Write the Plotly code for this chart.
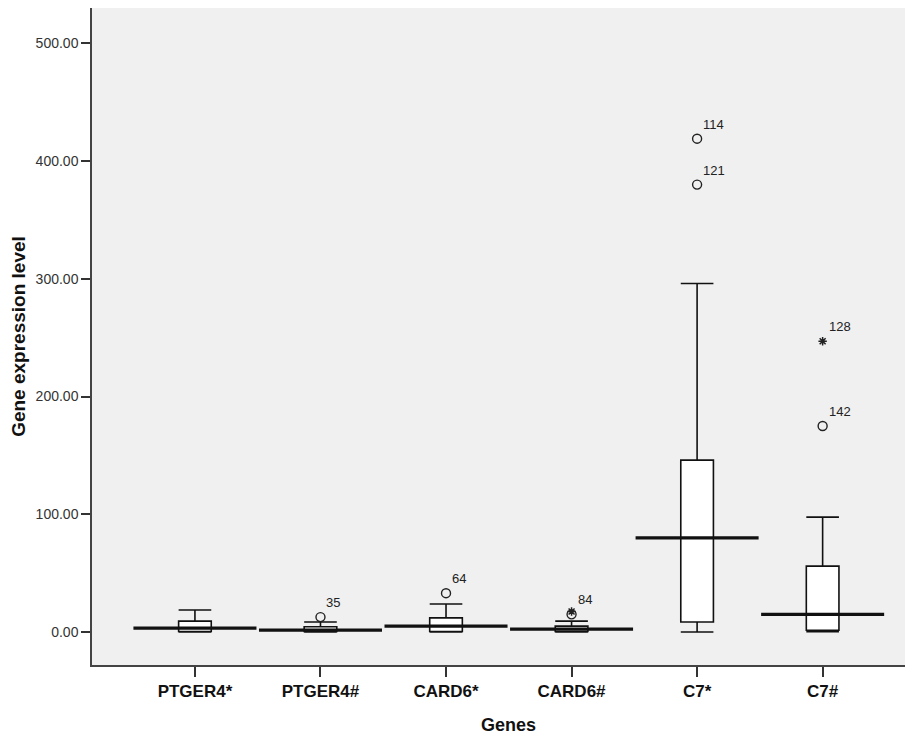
import plotly.graph_objects as go

genes = ["PTGER4*", "PTGER4#", "CARD6*", "CARD6#", "C7*", "C7#"]
q1 = [0.5, 0.5, 0.5, 0.5, 8.5, 1.5]
q3 = [9.3, 4.5, 12.0, 5.0, 146.0, 56.0]
box_mid = [3.4, 1.7, 5.0, 2.5, 80.0, 15.0]
lower_whisker = [0.0, 0.0, 0.0, 0.0, 0.0, 0.3]
upper_whisker = [18.7, 8.5, 23.8, 9.3, 296.0, 97.6]
center_line = [3.4, 1.7, 5.0, 2.5, 80.0, 15.0]

circle_group = [1, 2, 3, 4, 4, 5]
circle_value = [12.7, 33.0, 15.0, 419.0, 380.0, 175.0]
circle_label = ["35", "64", "84", "114", "121", "142"]

star_group = [3, 5]
star_value = [17.5, 247.0]
star_label = ["", "128"]

yticks = [0, 100, 200, 300, 400, 500]
ytick_text = ["0.00", "100.00", "200.00", "300.00", "400.00", "500.00"]

xs = list(range(len(genes)))
fig = go.Figure()

fig.add_trace(go.Box(
    x=xs, q1=q1, median=box_mid, q3=q3,
    lowerfence=lower_whisker, upperfence=upper_whisker,
    fillcolor="white", line=dict(color="#111111", width=1.6),
    width=0.26, whiskerwidth=1, boxpoints=False, showlegend=False,
    hoverinfo="skip",
))

# wide thick center lines
for i, v in enumerate(center_line):
    fig.add_shape(type="line", xref="x", yref="y",
                  x0=i - 0.49, x1=i + 0.49, y0=v, y1=v,
                  line=dict(color="#111111", width=3.2))

fig.add_trace(go.Scatter(
    x=circle_group, y=circle_value, mode="markers",
    marker=dict(symbol="circle-open", size=9, color="#222222",
                line=dict(width=1.4)),
    showlegend=False, hoverinfo="skip"))
fig.add_trace(go.Scatter(
    x=star_group, y=star_value, mode="markers",
    marker=dict(symbol="asterisk-open", size=7, color="#222222",
                line=dict(width=1.5)),
    showlegend=False, hoverinfo="skip"))

for gx, gv, gl in zip(circle_group + star_group, circle_value + star_value,
                      circle_label + star_label):
    if gl:
        fig.add_annotation(x=gx, y=gv, text=gl, showarrow=False,
                           xanchor="left", yanchor="bottom",
                           xshift=4, yshift=5,
                           font=dict(family="Liberation Sans, Arial", size=13,
                                     color="#222222"))

fig.add_annotation(x=0.511, y=-0.0913, xref="paper", yref="paper",
                   text="<b>Genes</b>", showarrow=False,
                   xanchor="center", yanchor="middle",
                   font=dict(family="Liberation Sans, Arial", size=18,
                             color="#111111"))

fig.update_layout(
    width=905, height=726,
    margin=dict(l=84, r=5, t=0, b=69),
    paper_bgcolor="white", plot_bgcolor="#f0f0f0",
    font=dict(family="Liberation Sans, Arial", color="#222222"),
)
fig.update_xaxes(
    range=[-0.82, 5.68], tickvals=xs,
    ticktext=["<b>%s</b>" % g for g in genes],
    tickfont=dict(size=17, color="#111111"),
    showgrid=False, zeroline=False, automargin=False,
    showline=True, linecolor="#444444", linewidth=1.5, mirror=True,
    ticks="outside", ticklen=10, tickwidth=1.5, tickcolor="#333333",
)
fig.update_yaxes(
    range=[-28, 530], tickvals=yticks, ticktext=ytick_text,
    tickfont=dict(size=14, color="#333333"),
    showgrid=False, zeroline=False, automargin=False,
    showline=True, linecolor="#444444", linewidth=1.5, mirror=True,
    ticks="outside", ticklen=9, tickwidth=1.5, tickcolor="#333333",
    title=dict(text="<b>Gene expression level</b>",
               font=dict(size=19, color="#111111"), standoff=6),
)

fig.write_html("out.html")
